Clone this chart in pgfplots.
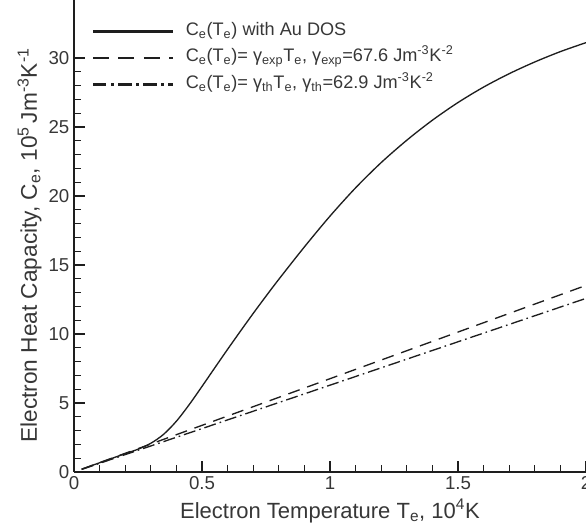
\documentclass[border=0pt]{standalone}
\usepackage{fontspec}
\setmainfont{Liberation Sans}
\usepackage{pgfplots}
\pgfplotsset{compat=1.18}

\definecolor{txtgray}{RGB}{55,55,55}
\definecolor{linegray}{RGB}{30,30,30}

\begin{document}
\begin{tikzpicture}
\begin{axis}[
  name=ax,
  scale only axis,
  width=384pt, height=354pt,
  xmin=0, xmax=2, ymin=0, ymax=34.2,
  axis x line*=bottom, axis y line*=left,
  axis line style={-, line width=2.2pt, linegray},
  xtick={0,0.5,1,1.5,2}, minor x tick num=4,
  ytick={0,5,...,30}, minor y tick num=4,
  tick align=inside,
  major tick length=7.9pt, minor tick length=5pt,
  major tick style={line width=2pt, linegray},
  minor tick style={line width=0.9pt, linegray},
  /pgf/number format/assume math mode=true,
  tick label style={font=\fontsize{14}{16}\selectfont, text=txtgray},
  xlabel={Electron Temperature T\textsubscript{e}, 10\textsuperscript{4}K},
  ylabel={Electron Heat Capacity, C\textsubscript{e}, 10\textsuperscript{5}\,Jm\textsuperscript{-3}K\textsuperscript{-1}},
  xlabel style={font=\fontsize{16.5}{19}\selectfont, text=txtgray,
    at={(axis description cs:0.5,-0.0975)}, anchor=base},
  ylabel style={font=\fontsize{17}{19}\selectfont, text=txtgray,
    at={(axis description cs:-0.0723,0.48)}, anchor=base},
  legend cell align=left,
  legend style={draw=none, fill=none, inner sep=0pt, outer sep=0pt,
    at={(axis description cs:0.035,0.956)}, anchor=north west,
    font=\fontsize{13.6}{15}\selectfont, text=txtgray,
    row sep=3.9pt,
    nodes={text height=9pt, text depth=3pt, inner sep=2pt}},
  legend image code/.code={\draw[#1, line width=1.8pt] (0pt,0pt) -- (60pt,0pt);
    \path (67pt,0pt);},
]
\addplot[linegray, line width=1pt, smooth] coordinates {
  (0.03,0.2) (0.1,0.67) (0.15,1.0) (0.2,1.33) (0.25,1.65) (0.3,2.08)
  (0.35,2.73) (0.4,3.68) (0.45,4.88) (0.5,6.2) (0.55,7.55) (0.6,8.89)
  (0.65,10.2) (0.7,11.49) (0.75,12.74) (0.8,13.96) (0.9,16.31) (1.0,18.54)
  (1.1,20.59) (1.2,22.42) (1.3,24.04) (1.4,25.49) (1.5,26.77) (1.6,27.89)
  (1.7,28.86) (1.8,29.71) (1.9,30.46) (2.0,31.11)
};
\addlegendentry{C\textsubscript{e}(T\textsubscript{e}) with Au DOS}
\addplot[linegray, line width=1pt, dash pattern=on 9pt off 6pt,
  legend image post style={dash pattern=on 12pt off 7pt}] coordinates {
  (0.03,0.203) (2.0,13.52)
};
\addlegendentry{C\textsubscript{e}(T\textsubscript{e})= γ\textsubscript{exp}T\textsubscript{e}, γ\textsubscript{exp}=67.6 Jm\textsuperscript{-3}K\textsuperscript{-2}}
\addplot[linegray, line width=1pt, dash pattern=on 9pt off 3pt on 1.2pt off 3pt,
  legend image post style={dash pattern=on 10pt off 3.5pt on 1.8pt off 3.5pt}] coordinates {
  (0.03,0.189) (2.0,12.58)
};
\addlegendentry{C\textsubscript{e}(T\textsubscript{e})= γ\textsubscript{th}T\textsubscript{e}, γ\textsubscript{th}=62.9 Jm\textsuperscript{-3}K\textsuperscript{-2}}
\end{axis}
\pgfresetboundingbox
\path ([shift={(-55.5pt,-42pt)}]ax.south west) rectangle (ax.north east);
\end{tikzpicture}
\end{document}
